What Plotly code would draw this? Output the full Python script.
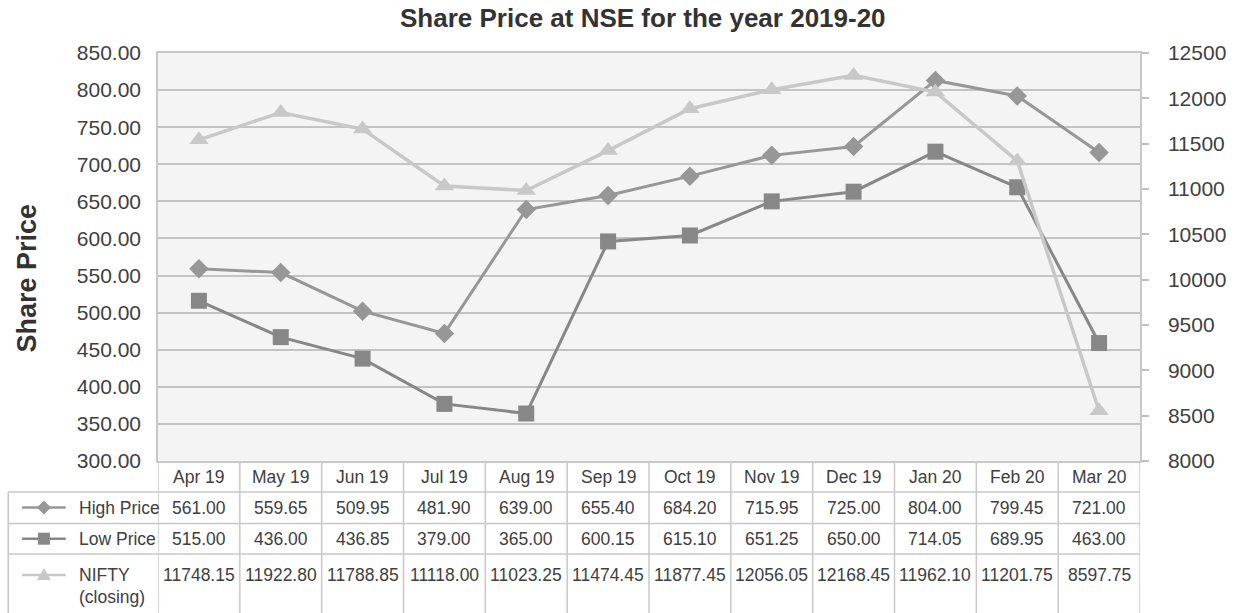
import plotly.graph_objects as go

# ---------------- data ----------------
categories = ["Apr 19", "May 19", "Jun 19", "Jul 19", "Aug 19", "Sep 19",
              "Oct 19", "Nov 19", "Dec 19", "Jan 20", "Feb 20", "Mar 20"]

high_plot = [559, 554, 502, 472, 639, 658, 684, 712, 724, 813, 792, 716]
low_plot = [516, 467, 438, 377, 364, 596, 604, 650, 663, 717, 669, 459]
nifty_plot = [11542, 11844, 11661, 11034, 10983, 11424, 11885, 12095, 12253, 12069, 11309, 8555]

# values printed in the data table
high_table = ["561.00", "559.65", "509.95", "481.90", "639.00", "655.40",
              "684.20", "715.95", "725.00", "804.00", "799.45", "721.00"]
low_table = ["515.00", "436.00", "436.85", "379.00", "365.00", "600.15",
             "615.10", "651.25", "650.00", "714.05", "689.95", "463.00"]
nifty_table = ["11748.15", "11922.80", "11788.85", "11118.00", "11023.25", "11474.45",
               "11877.45", "12056.05", "12168.45", "11962.10", "11201.75", "8597.75"]

series_names = ["High Price", "Low Price", "NIFTY"]

# ---------------- style ----------------
FONT = "Liberation Sans, Arial, sans-serif"
TFONT = FONT
TSIZE = 17.5
TXT = "#404040"
C_HIGH = "#979797"
C_LOW = "#878787"
C_NIFTY = "#c8c8c8"
BORDER = "#c8c8c8"

W, H = 1238, 613
L, R, T, B = 158, 90, 53, 152
PW, PH = W - L - R, H - T - B


def px(x):
    return (x - L) / PW


def py(y):
    return (H - B - y) / PH


fig = go.Figure()
fig.add_trace(go.Scatter(
    x=categories, y=high_plot, name=series_names[0], mode="lines+markers",
    line=dict(color=C_HIGH, width=3),
    marker=dict(symbol="diamond", size=15, color=C_HIGH)))
fig.add_trace(go.Scatter(
    x=categories, y=low_plot, name=series_names[1], mode="lines+markers",
    line=dict(color=C_LOW, width=3),
    marker=dict(symbol="square", size=16, color=C_LOW)))
fig.add_trace(go.Scatter(
    x=categories, y=nifty_plot, name=series_names[2], mode="lines+markers",
    yaxis="y2",
    line=dict(color=C_NIFTY, width=3.5),
    marker=dict(symbol="triangle-up", size=17, color=C_NIFTY)))

shapes = []
annotations = []

# ---------- data table ----------
row_tops = [461, 492, 523.5, 554, 616]
n = len(categories)
for yy in row_tops[1:4]:
    shapes.append(dict(type="line", xref="paper", yref="paper",
                       x0=px(7), x1=1, y0=py(yy), y1=py(yy),
                       line=dict(color=BORDER, width=1.5)))
for k in range(n + 1):
    shapes.append(dict(type="line", xref="x", yref="paper",
                       x0=k - 0.5, x1=k - 0.5, y0=py(461), y1=py(616),
                       line=dict(color=BORDER, width=1.5)))
shapes.append(dict(type="line", xref="paper", yref="paper",
                   x0=px(7), x1=px(7), y0=py(492), y1=py(616),
                   line=dict(color=BORDER, width=1.5)))

row_centers = [476.5, 507.5, 538.7, 575]
for c in categories:
    annotations.append(dict(x=c, xref="x", y=py(row_centers[0]), yref="paper",
                            text=c, showarrow=False, xanchor="center", yanchor="middle",
                            font=dict(family=TFONT, size=TSIZE, color=TXT)))
for vals, rc in [(high_table, row_centers[1]), (low_table, row_centers[2]),
                 (nifty_table, row_centers[3])]:
    for c, v in zip(categories, vals):
        annotations.append(dict(x=c, xref="x", y=py(rc), yref="paper",
                                text=v, showarrow=False, xanchor="center", yanchor="middle",
                                font=dict(family=TFONT, size=TSIZE, color=TXT)))

key_rows = [(row_centers[1], C_HIGH, "diamond"), (row_centers[2], C_LOW, "square"),
            (row_centers[3], C_NIFTY, "triangle")]
for rc, col, sym in key_rows:
    shapes.append(dict(type="line", xref="paper", yref="paper",
                       x0=px(21), x1=px(65), y0=py(rc), y1=py(rc),
                       line=dict(color=col, width=2.5)))
    if sym == "diamond":
        path = "M-7,0 L0,7 L7,0 L0,-7 Z"
    elif sym == "square":
        path = "M-6,-6 L6,-6 L6,6 L-6,6 Z"
    else:
        path = "M-7,-5 L7,-5 L0,7 Z"
    shapes.append(dict(type="path", xref="paper", yref="paper",
                       xsizemode="pixel", ysizemode="pixel",
                       xanchor=px(43), yanchor=py(rc), path=path,
                       fillcolor=col, line=dict(color=col, width=0)))

for label, rc in [("High Price", row_centers[1]), ("Low Price", row_centers[2]),
                  ("NIFTY", 575), ("(closing)", 597)]:
    annotations.append(dict(x=px(76), xref="paper", y=py(rc), yref="paper",
                            text=label, showarrow=False, xanchor="left", yanchor="middle",
                            font=dict(family=TFONT, size=TSIZE, color=TXT)))

annotations.append(dict(x=px(646.5), xref="paper", y=py(17.5), yref="paper",
                        text="<b>Share Price at NSE for the year 2019-20</b>",
                        showarrow=False, xanchor="center", yanchor="middle",
                        font=dict(family=FONT, size=26, color="#333333")))
annotations.append(dict(x=px(25), xref="paper", y=py(278.5), yref="paper",
                        text="<b>Share Price</b>", textangle=-90,
                        showarrow=False, xanchor="center", yanchor="middle",
                        font=dict(family=FONT, size=27, color="#333333")))

fig.update_layout(
    width=W, height=H,
    margin=dict(l=L, r=R, t=T, b=B, pad=0),
    paper_bgcolor="white",
    plot_bgcolor="#f4f4f4",
    showlegend=False,
    font=dict(family=FONT, color=TXT),
    xaxis=dict(type="category", range=[-0.5, n - 0.5], showticklabels=False,
               showgrid=False, zeroline=False, showline=True, mirror=True,
               linecolor=BORDER, linewidth=1.5, ticks=""),
    yaxis=dict(range=[300, 850], tick0=300, dtick=50, tickformat=".2f",
               showgrid=True, gridcolor="#c3c3c3", gridwidth=1.5, zeroline=False,
               showline=True, linecolor=BORDER, linewidth=1.5, ticks="",
               ticklabelstandoff=11,
               tickfont=dict(family=FONT, size=21, color=TXT)),
    yaxis2=dict(range=[8000, 12500], tick0=8000, dtick=500, tickformat="d",
                overlaying="y", side="right", showgrid=False, zeroline=False,
                showline=True, linecolor=BORDER, linewidth=1.5,
                ticks="outside", ticklen=7, tickwidth=1.5, tickcolor="#bfbfbf",
                ticklabelstandoff=15,
                tickfont=dict(family=FONT, size=21, color=TXT)),
    shapes=shapes,
    annotations=annotations,
)

fig.write_html("out.html")
